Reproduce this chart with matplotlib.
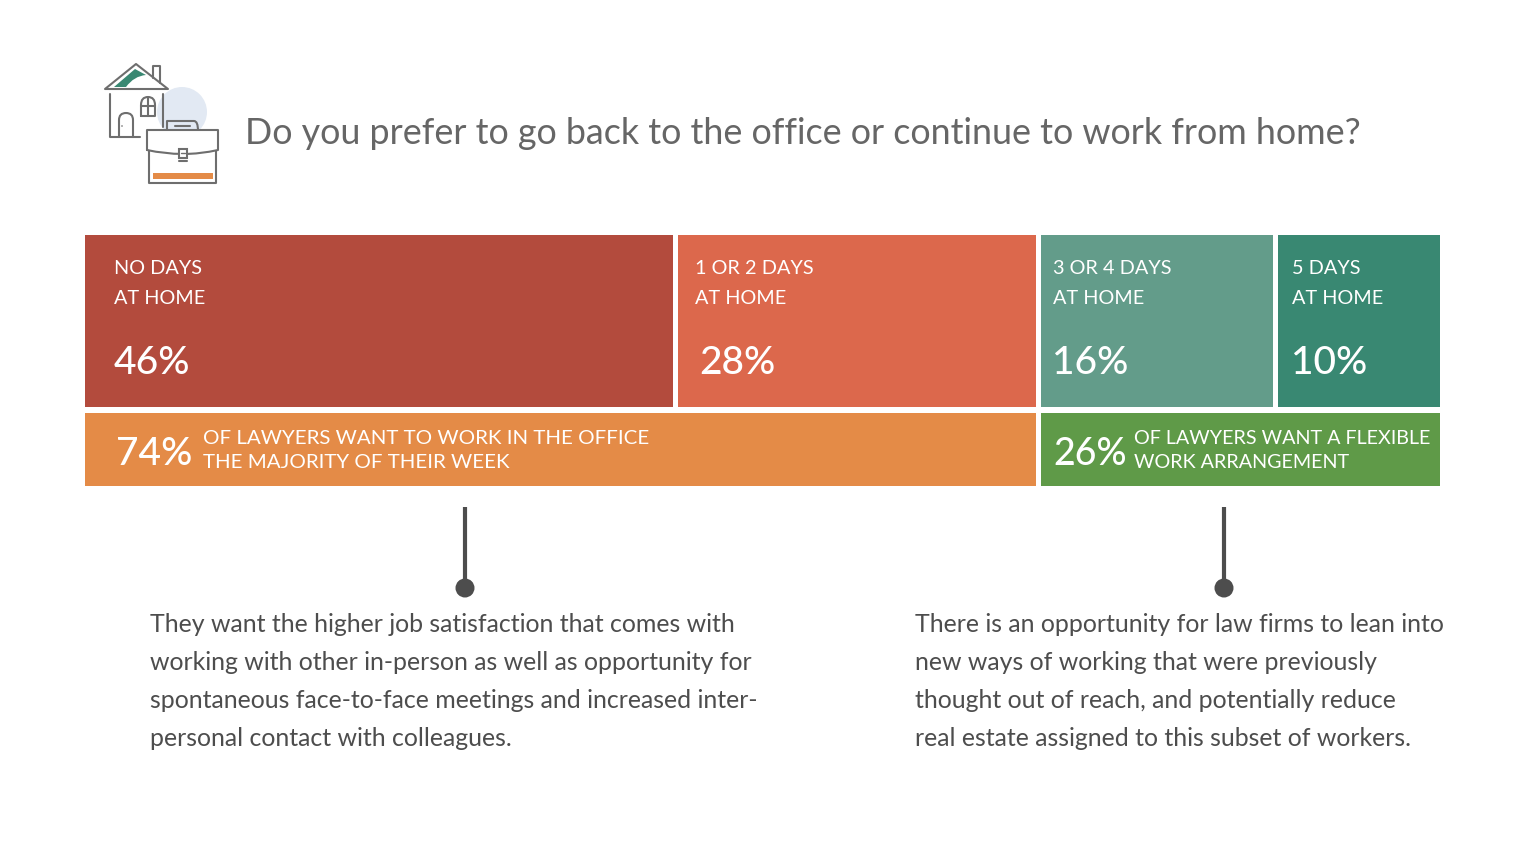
import matplotlib
matplotlib.use('Agg')
import matplotlib.pyplot as plt
from matplotlib.patches import Rectangle, Circle, Polygon, PathPatch
from matplotlib.path import Path

plt.rcParams['font.family'] = ['Lato', 'DejaVu Sans']

top_labels = ['NO DAYS\nAT HOME', '1 OR 2 DAYS\nAT HOME', '3 OR 4 DAYS\nAT HOME', '5 DAYS\nAT HOME']
top_values = [46, 28, 16, 10]
# the reference does not draw these to scale, so the drawn shares are read off separately
top_shares = [43.91, 26.66, 17.31, 12.12]
top_colors = ['#b34b3d', '#dc684c', '#639c8a', '#398872']
bottom_values = [74, 26]
bottom_labels = ['OF LAWYERS WANT TO WORK IN THE OFFICE\nTHE MAJORITY OF THEIR WEEK',
                 'OF LAWYERS WANT A FLEXIBLE\nWORK ARRANGEMENT']
bottom_colors = ['#e48b47', '#5f9a48']
title = 'Do you prefer to go back to the office or continue to work from home?'
left_note = ['They want the higher job satisfaction that comes with',
             'working with other in-person as well as opportunity for',
             'spontaneous face-to-face meetings and increased inter-',
             'personal contact with colleagues.']
right_note = ['There is an opportunity for law firms to lean into',
              'new ways of working that were previously',
              'thought out of reach, and potentially reduce',
              'real estate assigned to this subset of workers.']

W, H = 1519, 849
fig = plt.figure(figsize=(W / 100, H / 100), dpi=100)
ax = fig.add_axes([0, 0, 1, 1])
ax.set_xlim(0, W)
ax.set_ylim(H, 0)
ax.axis('off')

x0 = 85
x1 = 1440
gap = 5
scale = (x1 - x0 - gap * 3) / sum(top_shares)
text_dx = [29, 17, 12, 14]
pct_dx = [29, 21, 11, 13]

# top row
x = x0
for lab, v, s, c, tx, px in zip(top_labels, top_values, top_shares, top_colors, text_dx, pct_dx):
    w = s * scale
    ax.add_patch(Rectangle((x, 235), w, 172, color=c, lw=0))
    a, b = lab.split('\n')
    ax.text(x + tx, 268, a, color='white', fontsize=14.3, va='center')
    ax.text(x + tx, 298, b, color='white', fontsize=14.3, va='center')
    ax.text(x + px, 363, f'{v}%', color='white', fontsize=28, va='center', weight='medium')
    x += w + gap

# bottom row
split = x0 + (top_shares[0] + top_shares[1]) * scale + gap
ax.add_patch(Rectangle((x0, 413), split - x0, 73, color=bottom_colors[0], lw=0))
ax.add_patch(Rectangle((split + gap, 413), x1 - split - gap, 73, color=bottom_colors[1], lw=0))
for xp, xt, v, lab, fs, pfs in zip([116, 1053], [203, 1134], bottom_values, bottom_labels,
                                   [14.75, 14.2], [28, 27]):
    ax.text(xp, 454, f'{v}%', color='white', fontsize=pfs, va='center', weight='medium')
    a, b = lab.split('\n')
    ax.text(xt, 438, a, color='white', fontsize=fs, va='center')
    ax.text(xt, 462, b, color='white', fontsize=fs, va='center')

# pins
for xp in [465, 1224]:
    ax.plot([xp, xp], [507, 585], color='#4d4d4d', lw=3, solid_capstyle='butt')
    ax.add_patch(Circle((xp, 588), 9.5, color='#4d4d4d', lw=0))

# notes
for xt, lines in zip([150, 915], [left_note, right_note]):
    for i, s in enumerate(lines):
        ax.text(xt, 625 + i * 37.8, s, color='#4d4d4d', fontsize=17.9, va='center')

ax.text(245, 133, title, color='#666666', fontsize=25.8, va='center')

# icon
line = '#6e6e6e'
lw = 1.5


def stroke(xs, ys, color=line, width=lw):
    ax.plot(xs, ys, color=color, lw=width, solid_capstyle='round', solid_joinstyle='round')


def curve(verts, codes, fc='none', ec=line, width=lw):
    p = Path(verts, codes)
    ax.add_patch(PathPatch(p, fc=fc, ec=ec, lw=width, joinstyle='round', capstyle='round'))


M, L, C, Z = Path.MOVETO, Path.LINETO, Path.CURVE3, Path.CLOSEPOLY

ax.add_patch(Circle((182, 112), 25, color='#e2e9f3', lw=0))
stroke([153, 153, 160, 160], [78, 66, 66, 83])
ax.add_patch(Polygon([(105, 89), (136, 64), (168, 89)], closed=True, fc='white', ec=line,
                     lw=lw, joinstyle='round'))
curve([(114, 87), (135, 69), (146, 75), (134, 76), (126, 87), (114, 87)],
      [M, L, L, C, C, Z], fc='#398872', ec='none', width=0)
stroke([110, 110, 140], [94, 137, 137])
stroke([163, 163], [94, 127])
# door
curve([(119, 137), (119, 120), (119, 113), (126, 113), (133, 113), (133, 120), (133, 137)],
      [M, L, C, C, C, C, L])
ax.add_patch(Circle((122, 126), 0.8, color=line, lw=0))
# window
curve([(141, 116), (141, 105), (141, 97), (148, 97), (155, 97), (155, 105), (155, 116), (141, 116)],
      [M, L, C, C, C, C, L, L])
stroke([141, 155], [106, 106])
stroke([148, 148], [98, 116])
# briefcase
curve([(167, 131), (167, 121), (172, 121), (194, 121), (198, 121), (198, 131)],
      [M, L, L, L, C, C], fc='#e2e9f3')
stroke([175, 190], [126, 126])
curve([(147, 150), (147, 130), (218, 130), (218, 150), (183, 158), (147, 150)],
      [M, L, L, L, C, C], fc='white')
curve([(149, 151), (149, 183), (216, 183), (216, 151)], [M, L, L, L])
ax.add_patch(Rectangle((153, 173), 60, 6, fc='#e48b47', lw=0))
ax.add_patch(Rectangle((179, 149), 8, 9, fc='white', ec=line, lw=lw))
stroke([181, 185], [153, 153], width=1)
stroke([179, 187], [161, 161])

fig.savefig('out.png', dpi=100)
